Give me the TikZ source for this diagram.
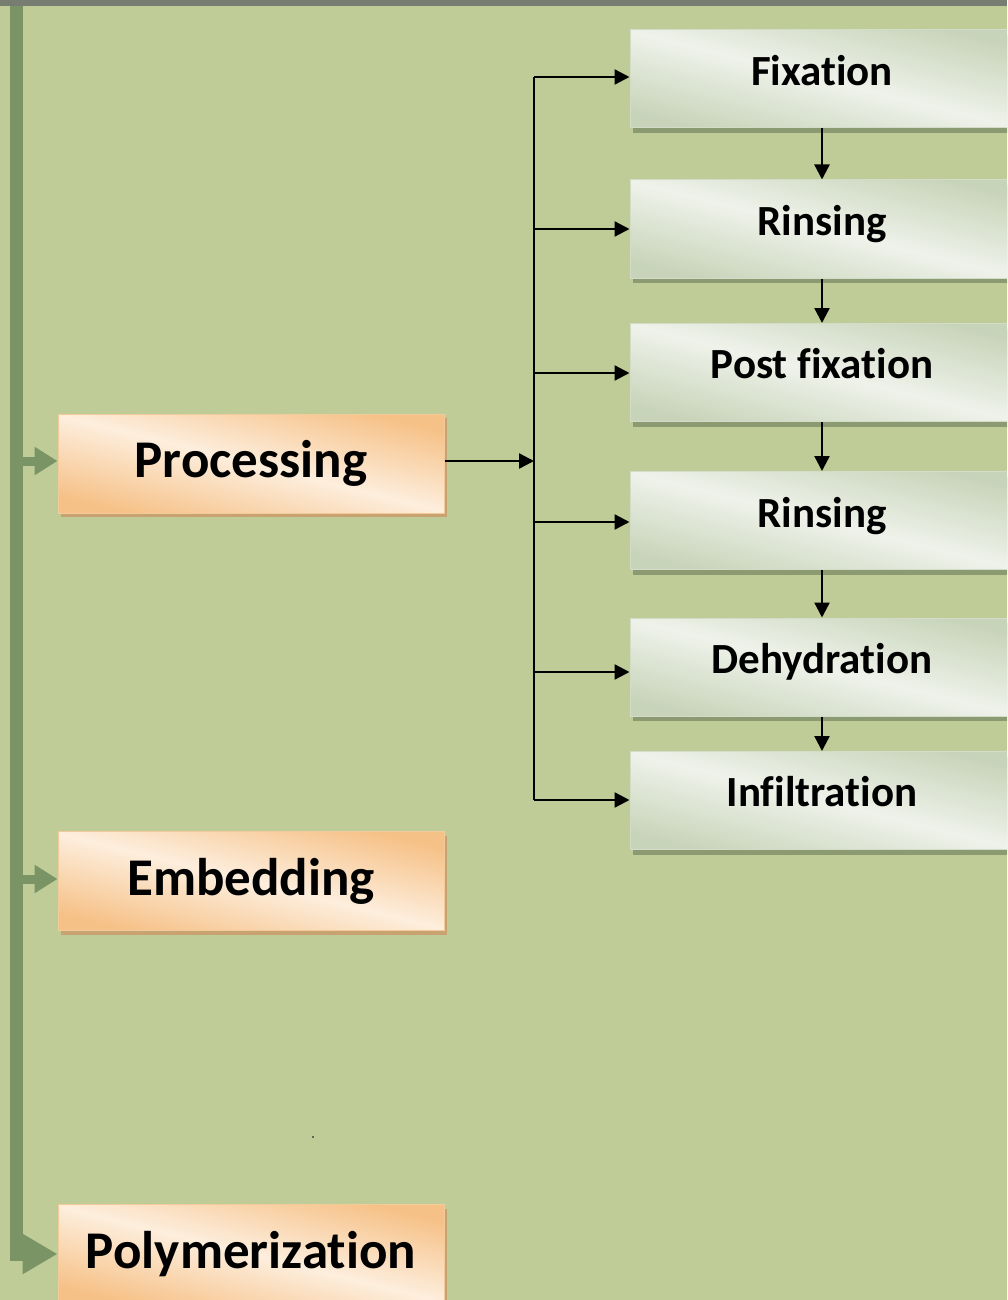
\documentclass[tikz,border=0pt]{standalone}
\usepackage{fontspec}
\setmainfont{Carlito}[Ligatures={NoCommon,NoRare},RawFeature={-liga;-dlig;-clig}]
\usetikzlibrary{arrows.meta,shadows,calc}
\definecolor{bg}{HTML}{BFCC97}
\definecolor{topband}{HTML}{787D72}
\definecolor{spinecol}{HTML}{7A9465}
\definecolor{orDark}{HTML}{F6C187}
\definecolor{orLight}{HTML}{FDEEDD}
\definecolor{orBorder}{HTML}{F1CB9A}
\definecolor{orShadow}{HTML}{C9A272}
\definecolor{grDark}{HTML}{C8D4BA}
\definecolor{grLight}{HTML}{EFF2EA}
\definecolor{grBorder}{HTML}{D3DCC8}
\definecolor{grShadow}{HTML}{8B9A70}
\tikzset{
  stagebox/.style={draw=orBorder, line width=1pt, minimum width=386pt, minimum height=99pt,
    inner sep=0pt, top color=orDark, bottom color=orDark, middle color=orLight, shading angle=-14,
    drop shadow={shadow xshift=3pt, shadow yshift=-4pt, fill=orShadow, opacity=1},
    font=\bfseries\fontsize{53}{62}\selectfont},
  stepbox/.style={draw=grBorder, line width=1pt, minimum width=384pt, minimum height=98pt,
    inner sep=0pt, top color=grDark, bottom color=grDark, middle color=grLight, shading angle=-14,
    drop shadow={shadow xshift=3pt, shadow yshift=-5pt, fill=grShadow, opacity=1},
    font=\bfseries\fontsize{43}{50}\selectfont},
  link/.style={line width=2.4pt, -{Triangle[length=15pt,width=15pt]}},
  spine/.style={spinecol, line width=13pt, -{Triangle[length=35pt,width=38pt]}},
  twig/.style={spinecol, line width=9pt, -{Triangle[length=23pt,width=27pt]}},
}
\begin{document}
\begin{tikzpicture}[x=1pt,y=-1pt]
\useasboundingbox (0,0) rectangle (1007,1300);
\clip (0,0) rectangle (1007,1300);
\fill[bg] (0,0) rectangle (1007,1300);

% left stages
\node[stagebox] (proc) at (251,463.5) {Processing};
\node[stagebox] (emb) at (251,881) {Embedding};
\node[stagebox] (poly) at (251,1254) {\raisebox{2pt}{Polymerization}};

% spine
\coordinate (spinetop) at (16,6);
\coordinate (sp1) at (16,461);
\coordinate (sp2) at (16,879);
\draw[twig] (sp1) -- (proc.west |- sp1);
\draw[twig] (sp2) -- (emb.west |- sp2);
\draw[spine] (spinetop) |- (poly.west);

\fill[topband] (0,0) rectangle (1007,6);

% steps
\node[stepbox] (fix) at (822,79) {\raisebox{18pt}{Fixation}};
\node[stepbox] (rin1) at (822,229) {\raisebox{17pt}{Rinsing}};
\node[stepbox] (post) at (822,372.5) {\raisebox{18pt}{Post fixation}};
\node[stepbox] (rin2) at (822,520.5) {\raisebox{17pt}{Rinsing}};
\node[stepbox] (dehy) at (822,667) {\raisebox{18pt}{Dehydration}};
\node[stepbox] (infi) at (822,800.5) {\raisebox{18pt}{Infiltration}};

% trunk
\coordinate (b1) at (534,77);
\coordinate (b2) at (534,229);
\coordinate (b3) at (534,373);
\coordinate (b4) at (534,522);
\coordinate (b5) at (534,672);
\coordinate (b6) at (534,800);
\coordinate (pj) at (534,461);
\draw[line width=2.4pt] (b1) -- (b6);
\foreach \b/\n in {b1/fix,b2/rin1,b3/post,b4/rin2,b5/dehy,b6/infi}
  \draw[link] (\b) -- (\b -| \n.west);
\draw[link] (proc.east |- pj) -- (pj);

\draw[link] (fix.south) -- (rin1.north);
\draw[link] (rin1.south) -- (post.north);
\draw[link] (post.south) -- (rin2.north);
\draw[link] (rin2.south) -- (dehy.north);
\draw[link] (dehy.south) -- (infi.north);

\fill[black] (313,1137) circle (0.8);
\end{tikzpicture}
\end{document}
